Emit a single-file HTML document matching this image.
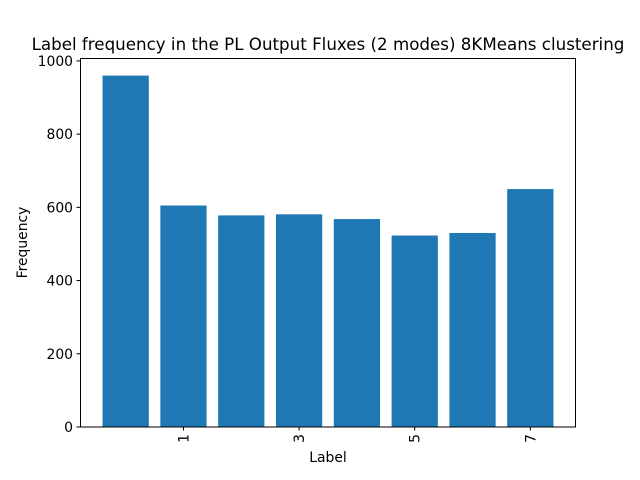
<!DOCTYPE html>
<html><head><meta charset="utf-8"><style>body{margin:0;background:#fff}svg{display:block;font-family:"DejaVu Sans","Liberation Sans",sans-serif}</style></head>
<body>
<svg id="chart" width="640" height="480" viewBox="0 0 640 480">
<rect width="640" height="480" fill="#fff"/>
<text x="328" y="50" font-size="16.7" text-anchor="middle">Label frequency in the PL Output Fluxes (2 modes) 8KMeans clustering</text>
<g id="bars"></g>
<g id="axes"></g>
<text x="328" y="462" font-size="13.9" text-anchor="middle">Label</text>
<text transform="translate(27,242.5) rotate(-90)" font-size="13.9" text-anchor="middle">Frequency</text>
<rect x="80.5" y="58.5" width="495" height="368.5" fill="none" stroke="#000" stroke-width="1"/>
</svg>
<script>
const categories = [0,1,2,3,4,5,6,7];
const frequencies = [960,605,578,581,568,523,530,650];
const xTickLabels = [1,3,5,7];
const yTickLabels = [0,200,400,600,800,1000];
const NS="http://www.w3.org/2000/svg";
const L=80,R=576,T=58,B=427;
const xmin=-0.79,xmax=7.79;
const ymax=Math.max(...frequencies)*1.05;
const X=v=>L+(v-xmin)/(xmax-xmin)*(R-L);
const Y=v=>B-v/ymax*(B-T);
const bars=document.getElementById('bars'),axes=document.getElementById('axes');
function mk(t,a,p){const e=document.createElementNS(NS,t);for(const k in a)e.setAttribute(k,a[k]);p.appendChild(e);return e;}
categories.forEach((c,i)=>{
 const r=mk('rect',{x:X(c-0.4),y:Y(frequencies[i]),width:X(c+0.4)-X(c-0.4),height:B-Y(frequencies[i]),fill:'#1f77b4'},bars);
 
 
});
xTickLabels.forEach(v=>{
 const x=X(v);
 mk('line',{x1:x,x2:x,y1:B,y2:B+3.5,stroke:'#000'},axes);
 const t=mk('text',{transform:`translate(${x+5},${B+7}) rotate(-90)`,'font-size':13.9,'text-anchor':'end'},axes);
 t.textContent=v;
 
 
});
yTickLabels.forEach(v=>{
 const y=Y(v);
 mk('line',{x1:L-3.5,x2:L,y1:y,y2:y,stroke:'#000'},axes);
 const t=mk('text',{x:L-7,y:y+5,'font-size':13.9,'text-anchor':'end'},axes);
 t.textContent=v;
 
 
});
</script>
</body></html>
